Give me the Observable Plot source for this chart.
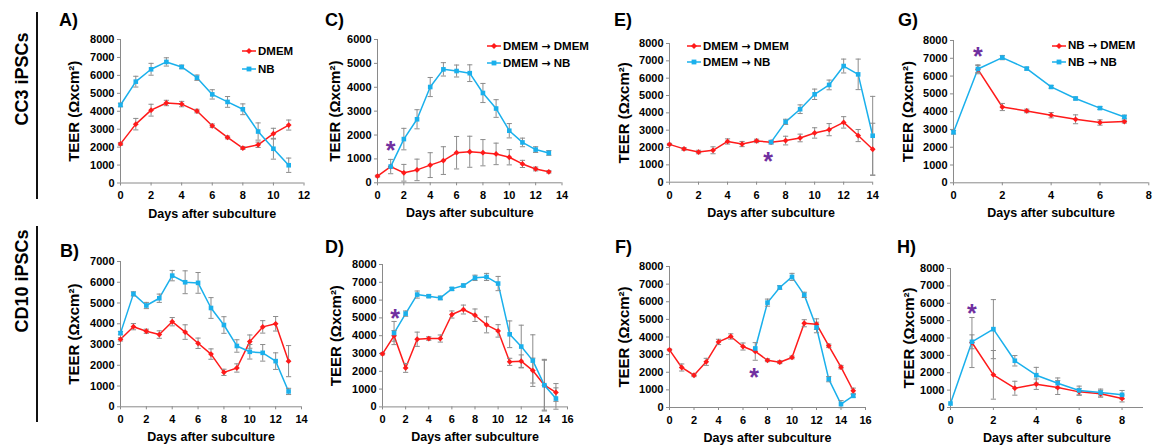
<!DOCTYPE html>
<html><head><meta charset="utf-8">
<script src="https://cdn.jsdelivr.net/npm/d3@7"></script>
<script src="https://cdn.jsdelivr.net/npm/@observablehq/plot@0.6"></script>
<style>
html,body{margin:0;padding:0;background:#fff;}
#fig{position:relative;width:1153px;height:447px;overflow:hidden;font-family:"Liberation Sans",Arial,sans-serif;font-weight:bold;color:#000;}
.panel{position:absolute;}
.letter{position:absolute;font-size:18px;line-height:1;}
.row{position:absolute;font-size:18px;line-height:1;white-space:nowrap;transform:translate(-50%,-50%) rotate(-90deg);}
.vline{position:absolute;width:1.5px;background:#111;}
.legend{position:absolute;font-size:11.5px;line-height:12px;white-space:nowrap;display:flex;align-items:center;}
.legend svg{margin-right:2px;}
.arr{font-family:"DejaVu Sans",sans-serif;font-weight:bold;font-size:11px;}
</style>
</head><body><div id="fig"></div>
<script>
// ---------- DATA ----------
// Panel A (CC3, DMEM vs NB)
const A_days = [0,1,2,3,4,5,6,7,8,9,10,11];
const A_red = [2180,3280,4060,4460,4400,4010,3190,2540,1950,2130,2750,3230];
const A_redErr = [80,320,330,150,150,100,100,80,80,150,300,280];
const A_blue = [4350,5650,6340,6750,6470,5870,4940,4520,4110,2870,1910,990];
const A_blueErr = [100,300,330,230,100,150,260,300,300,480,580,400];
// Panel C
const C_redDays = [0,1,2,3,4,5,6,7,8,9,10,11,12,13];
const C_red = [280,680,420,540,740,930,1260,1300,1260,1210,1070,790,580,460];
const C_redErr = [40,300,350,450,520,580,680,650,550,450,320,150,80,50];
const C_blueDays = [1,2,3,4,5,6,7,8,9,10,11,12,13];
const C_blue = [680,1830,2660,4010,4750,4680,4590,3760,3110,2180,1690,1390,1250];
const C_blueErr = [0,450,400,400,280,250,350,400,370,300,180,120,100];
// Panel E
const E_redDays = [0,1,2,3,4,5,6,7,8,9,10,11,12,13,14];
const E_red = [2180,1920,1740,1840,2350,2200,2380,2310,2400,2550,2840,3030,3450,2690,1900];
const E_redErr = [60,80,100,200,150,150,100,100,250,220,300,350,330,350,1500];
const E_blueDays = [7,8,9,10,11,12,13,14];
const E_blue = [2310,3480,4210,5070,5610,6700,6220,2680];
const E_blueErr = [0,150,250,300,280,400,880,2270];
// Panel G
const G_redDays = [1,2,3,4,5,6,7];
const G_red = [6380,4260,4040,3800,3570,3390,3440];
const G_redErr = [250,200,100,150,250,150,80];
const G_blueDays = [0,1,2,3,4,5,6,7];
const G_blue = [2840,6400,7040,6420,5390,4740,4200,3700];
const G_blueErr = [100,200,120,80,80,80,80,100];
// Panel B (CD10)
const B_days = [0,1,2,3,4,5,6,7,8,9,10,11,12,13];
const B_red = [3250,3860,3640,3480,4100,3600,3060,2540,1660,1870,3140,3850,4000,2200];
const B_redErr = [80,150,100,180,200,350,250,250,150,200,320,300,350,750];
const B_blue = [3550,5440,4880,5230,6320,6000,5970,4760,3940,2930,2650,2600,2200,740];
const B_blueErr = [80,100,150,200,250,550,500,500,400,300,350,400,400,150];
// Panel D
const D_redDays = [0,1,2,3,4,5,6,7,8,9,10,11,12,13,14,15];
const D_red = [2980,3990,2190,3800,3840,3840,5190,5470,5150,4610,4270,2530,2570,2040,1220,810];
const D_redErr = [60,300,250,400,100,200,200,250,350,450,350,200,350,700,1450,500];
const D_blueDays = [1,2,3,4,5,6,7,8,9,10,11,12,13,14,15];
const D_blue = [4150,5240,6310,6220,6120,6630,6820,7250,7300,6930,4080,3390,2600,1220,470];
const D_blueErr = [650,150,200,80,100,80,80,150,200,400,750,1200,1450,1400,600];
// Panel F
const F_redDays = [0,1,2,3,4,5,6,7,8,9,10,11,12,13,14,15];
const F_red = [3270,2270,1830,2590,3720,4030,3460,3180,2680,2570,2840,4780,4730,3500,2290,950];
const F_redErr = [50,200,80,200,150,150,200,500,80,80,80,200,300,100,100,150];
const F_blueDays = [7,8,9,10,11,12,13,14,15];
const F_blue = [3350,5950,6810,7410,6390,4540,1610,190,660];
const F_blueErr = [0,200,100,200,150,300,150,200,80];
// Panel H
const H_redDays = [1,2,3,4,5,6,7,8];
const H_red = [3740,1880,1110,1340,1150,900,790,520];
const H_redErr = [1440,1400,400,300,400,200,200,200];
const H_blueDays = [0,1,2,3,4,5,6,7,8];
const H_blue = [230,3780,4510,2690,1860,1400,980,860,730];
const H_blueErr = [0,400,1700,300,450,300,250,200,250];

// legends (from, to); a single medium has no arrow
const legendA = [["DMEM"],["NB"]];
const legendCE = [["DMEM","DMEM"],["DMEM","NB"]];
const legendG = [["NB","DMEM"],["NB","NB"]];
// asterisks (panel, day, value)
const starPanels = ["C","E","G","D","F","H"];
const starDays = [1,6.8,1,1.1,6.9,1];
const starValues = [1600,1500,7400,5300,2000,5700];
// panel letters and row labels
const panelLetters = ["A)","C)","E)","G)","B)","D)","F)","H)"];
const rowLabels = ["CC3 iPSCs","CD10 iPSCs"];
const xTitle = "Days after subculture";
const yTitle = "TEER (\u03A9xcm\u00B2)";

// ---------- STYLE ----------
const RED = "#ff1a1a", BLUE = "#1ab0ec", ERR = "#8c8c8c", AXIS = "#8a8a8a", PURPLE = "#7030a0";
const FONT = "'Liberation Sans', Arial, sans-serif";
const fig = document.getElementById("fig");

const panels = [
  {id:"A", L:120, R:303.5, T:39, B:182.5, xmax:12, ymax:8000, yl:47, xo:34.5, rd:A_days, r:A_red, re:A_redErr, bd:A_days, b:A_blue, be:A_blueErr, leg:legendA, legX:242, legY:[50,68], letter:[59,19.5]},
  {id:"C", L:377, R:561.5, T:39, B:182.3, xmax:14, ymax:6000, yl:43, xo:34.5, rd:C_redDays, r:C_red, re:C_redErr, bd:C_blueDays, b:C_blue, be:C_blueErr, leg:legendCE, legX:487, legY:[45,62], letter:[325,19.5]},
  {id:"E", L:668.5, R:871.7, T:43, B:181.7, xmax:14, ymax:8000, yl:45.5, xo:35, rd:E_redDays, r:E_red, re:E_redErr, bd:E_blueDays, b:E_blue, be:E_blueErr, leg:legendCE, legX:687, legY:[45,61], letter:[614,19.5]},
  {id:"G", L:953, R:1148.3, T:40, B:182.3, xmax:8, ymax:8000, yl:46, xo:34.5, rd:G_redDays, r:G_red, re:G_redErr, bd:G_blueDays, b:G_blue, be:G_blueErr, leg:legendG, legX:1052, legY:[44.5,61], letter:[898,19.5]},
  {id:"B", L:120, R:301, T:261, B:406.3, xmax:14, ymax:7000, yl:47, xo:34, rd:B_days, r:B_red, re:B_redErr, bd:B_days, b:B_blue, be:B_blueErr, letter:[60,251]},
  {id:"D", L:381.7, R:566.7, T:264.3, B:406.7, xmax:16, ymax:8000, yl:46.5, xo:34, rd:D_redDays, r:D_red, re:D_redErr, bd:D_blueDays, b:D_blue, be:D_blueErr, letter:[325,247]},
  {id:"F", L:669, R:865, T:265.7, B:406.7, xmax:16, ymax:8000, yl:46, xo:34, rd:F_redDays, r:F_red, re:F_redErr, bd:F_blueDays, b:F_blue, be:F_blueErr, letter:[615,247]},
  {id:"H", L:950, R:1143, T:267.7, B:406.7, xmax:9, xtickMax:8, ymax:8000, yl:42, xo:34, rd:H_redDays, r:H_red, re:H_redErr, bd:H_blueDays, b:H_blue, be:H_blueErr, letter:[897,247]}
];

const capSymbol = {draw(ctx){ ctx.moveTo(-2.6,0); ctx.lineTo(2.6,0); }};

function series(days, vals, errs){ return days.map((d,i)=>({day:d, v:vals[i], e:errs[i]})); }

panels.forEach((p, idx) => {
  const mL = 66, mR = 12, mT = 10, mB = 48;
  const w = p.R - p.L, h = p.B - p.T;
  const red = series(p.rd, p.r, p.re), blue = series(p.bd, p.b, p.be);
  const errs = red.concat(blue).filter(d => d.e > 0);
  const caps = errs.flatMap(d => [{day:d.day, y:d.v - d.e}, {day:d.day, y:d.v + d.e}]);
  const stars = starPanels.map((id,i)=>({id, day:starDays[i], v:starValues[i]})).filter(s => s.id === p.id);
  const xticks = d3.range(0, (p.xtickMax ?? p.xmax) + 1, 2);
  const yticks = d3.range(0, p.ymax + 1, 1000);
  const chart = Plot.plot({
    width: w + mL + mR, height: h + mT + mB,
    marginLeft: mL, marginRight: mR, marginTop: mT, marginBottom: mB,
    style: {background:"transparent", fontFamily: FONT, fontSize:"11px", fontWeight:"bold", color:"#000", overflow:"visible"},
    x: {domain:[0, p.xmax]},
    y: {domain:[0, p.ymax]},
    marks: [
      Plot.ruleY([0], {stroke: AXIS, strokeWidth: 1}),
      Plot.ruleX([0], {stroke: AXIS, strokeWidth: 1}),
      Plot.axisX({ticks: xticks, tickSize: 3, tickPadding: 5.5, stroke: AXIS, fill: "#000", label: null, tickFormat: d => String(d)}),
      Plot.axisX({ticks: [], label: xTitle, labelAnchor: "center", labelArrow: "none", labelOffset: p.xo, fontSize: 12.5, fill: "#000"}),
      Plot.axisY({ticks: yticks, tickSize: 3, tickPadding: 3, stroke: AXIS, fill: "#000", label: null, tickFormat: d => String(d)}),
      Plot.axisY({ticks: [], label: yTitle, labelAnchor: "center", labelArrow: "none", labelOffset: p.yl + 5.4, fontSize: 15, fill: "#000"}),
      Plot.line(red, {x: "day", y: "v", stroke: RED, strokeWidth: 1.5}),
      Plot.line(blue, {x: "day", y: "v", stroke: BLUE, strokeWidth: 1.5}),
      Plot.ruleX(errs, {x: "day", y1: d => d.v - d.e, y2: d => d.v + d.e, stroke: ERR, strokeWidth: 1}),
      Plot.dot(caps, {x: "day", y: "y", symbol: capSymbol, stroke: ERR, fill: "none", strokeWidth: 1}),
      Plot.dot(red, {x: "day", y: "v", symbol: "diamond2", r: 2.6, fill: RED, stroke: "none"}),
      Plot.dot(blue, {x: "day", y: "v", symbol: "square", r: 2.6, fill: BLUE, stroke: "none"}),
      Plot.text(stars, {x: "day", y: "v", text: () => "*", fill: PURPLE, fontSize: 25, fontWeight: "bold", dy: 6})
    ]
  });
  chart.classList.add("panel");
  chart.style.left = (p.L - mL) + "px";
  chart.style.top = (p.T - mT) + "px";
  fig.appendChild(chart);

  // panel letter
  const lt = document.createElement("div");
  lt.className = "letter";
  lt.textContent = panelLetters[idx];
  lt.style.left = p.letter[0] + "px";
  lt.style.top = (p.letter[1] - 8.8) + "px";
  fig.appendChild(lt);

  // legend
  if (p.leg) {
    p.leg.forEach((parts, k) => {
      const color = k === 0 ? RED : BLUE;
      const div = document.createElement("div");
      div.className = "legend";
      div.style.left = p.legX + "px";
      div.style.top = (p.legY[k] - 6) + "px";
      const marker = k === 0
        ? `<path d="M7,4 L10,7 L7,10 L4,7 Z" fill="${color}"/>`
        : `<rect x="4.6" y="4.6" width="4.8" height="4.8" fill="${color}"/>`;
      const label = parts.length === 1 ? parts[0]
        : `${parts[0]}&nbsp;<span class="arr">\u2192</span>&nbsp;${parts[1]}`;
      div.innerHTML = `<svg width="14" height="14" viewBox="0 0 14 14"><line x1="0" y1="7" x2="14" y2="7" stroke="${color}" stroke-width="1.5"/>${marker}</svg><span>${label}</span>`;
      fig.appendChild(div);
    });
  }
});

// row labels and separators
[[22, 79, 12, 199], [22, 281, 226, 422]].forEach(([cx, cy, y0, y1], i) => {
  const r = document.createElement("div");
  r.className = "row";
  r.textContent = rowLabels[i];
  r.style.left = cx + "px";
  r.style.top = cy + "px";
  fig.appendChild(r);
  const v = document.createElement("div");
  v.className = "vline";
  v.style.left = "36px";
  v.style.top = y0 + "px";
  v.style.height = (y1 - y0) + "px";
  fig.appendChild(v);
});
</script>
</body></html>
